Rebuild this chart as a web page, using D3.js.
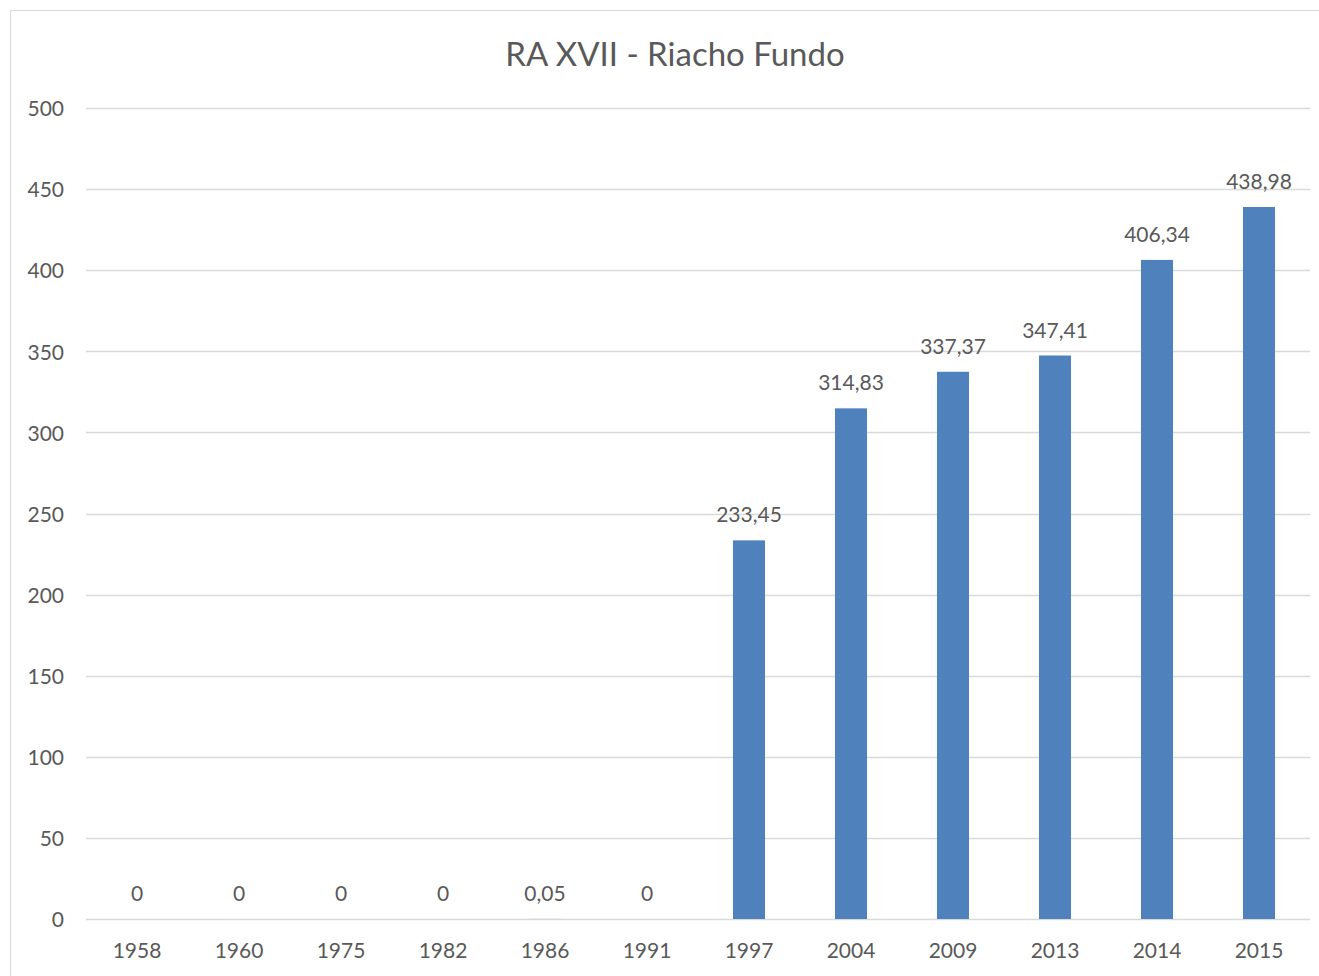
<!DOCTYPE html>
<html>
<head>
<meta charset="utf-8">
<script src="https://cdn.jsdelivr.net/npm/d3@7"></script>
<style>
  body { margin: 0; background: #fff; }
  svg text { font-family: Lato, "Open Sans", sans-serif; fill: #595959; }
</style>
</head>
<body>
<svg id="chart" width="1319" height="976"></svg>
<script>
var years = ['1958', '1960', '1975', '1982', '1986', '1991', '1997', '2004', '2009', '2013', '2014', '2015'];
var values = [0, 0, 0, 0, 0.05, 0, 233.45, 314.83, 337.37, 347.41, 406.34, 438.98];
var labels = ['0', '0', '0', '0', '0,05', '0', '233,45', '314,83', '337,37', '347,41', '406,34', '438,98'];
var yTicks = [0, 50, 100, 150, 200, 250, 300, 350, 400, 450, 500];

var svg = d3.select('#chart');

// chart frame
svg.append('rect')
  .attr('x', 10.5).attr('y', 10.5)
  .attr('width', 1330).attr('height', 1000)
  .attr('fill', '#fff')
  .attr('stroke', '#d9d9d9');

var plotLeft = 86, plotRight = 1310, plotTop = 108, plotBottom = 919;

var x = d3.scaleBand().domain(years).range([plotLeft, plotRight]).paddingInner(0.686).paddingOuter(0.343);
var y = d3.scaleLinear().domain([0, 500]).range([plotBottom, plotTop]);

svg.append('text')
  .attr('x', 675).attr('y', 66)
  .attr('text-anchor', 'middle')
  .style('font-size', '33px')
  .text('RA XVII - Riacho Fundo');

// gridlines
svg.append('g').selectAll('line')
  .data(yTicks)
  .enter().append('line')
  .attr('x1', plotLeft).attr('x2', plotRight)
  .attr('y1', function(d) { return Math.round(y(d)) + 0.5; })
  .attr('y2', function(d) { return Math.round(y(d)) + 0.5; })
  .attr('stroke', '#d9d9d9')
  .attr('stroke-width', 1.5);

// y labels
var yAxis = svg.append('g')
  .attr('transform', 'translate(' + (plotLeft - 22) + ',1)')
  .call(d3.axisLeft(y).tickValues(yTicks).tickSize(0).tickPadding(0));
yAxis.select('.domain').remove();
yAxis.selectAll('text').style('font-size', '21px').attr('fill', '#595959');

// x labels
var xAxis = svg.append('g')
  .attr('transform', 'translate(0,' + plotBottom + ')')
  .call(d3.axisBottom(x).tickSize(0).tickPadding(24));
xAxis.select('.domain').remove();
xAxis.selectAll('text').style('font-size', '21px').attr('fill', '#595959');

// bars
svg.append('g').selectAll('rect')
  .data(values)
  .enter().append('rect')
  .attr('x', function(d, i) { return x(years[i]); })
  .attr('width', x.bandwidth())
  .attr('y', function(d) { return y(d); })
  .attr('height', function(d) { return plotBottom - y(d); })
  .attr('fill', '#4f81bd');

// data labels
svg.append('g').selectAll('text')
  .data(values)
  .enter().append('text')
  .attr('x', function(d, i) { return x(years[i]) + x.bandwidth() / 2; })
  .attr('y', function(d) { return y(d) - 18; })
  .attr('text-anchor', 'middle')
  .style('font-size', '21px')
  .text(function(d, i) { return labels[i]; });
</script>
</body>
</html>
